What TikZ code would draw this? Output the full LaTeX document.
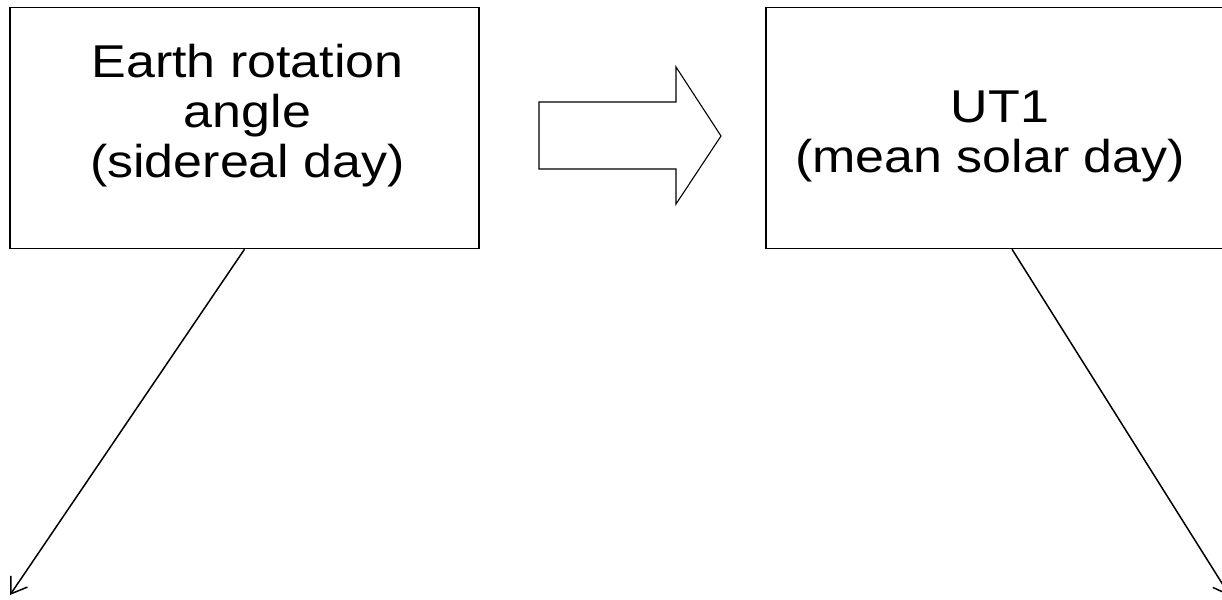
\documentclass[tikz,border=0pt]{standalone}
\usepackage{fontspec}
\setmainfont{Liberation Sans}
\newfontfamily\widesans[FakeStretch=1.13]{Liberation Sans}
\usetikzlibrary{arrows.meta,calc}
\begin{document}
\begin{tikzpicture}[x=1pt,y=-1pt,
  box/.style={draw=black,line width=1.5pt,minimum width=469pt,minimum height=241pt,inner sep=0pt,fill=white},
  lbl/.style={align=center,inner sep=0pt,font=\widesans\fontsize{46pt}{50pt}\selectfont},
  conn/.style={draw=black,line width=1.5pt,-{Straight Barb[length=15pt,width=20pt,line width=1.5pt]}},
  blockarrow/.style={draw=black,line width=1.1pt,line join=miter,fill=white}]
\useasboundingbox (0,0) rectangle (1222,599);
\fill[white] (0,0) rectangle (1222,599);
\node[box] (era) at (244.5,128) {};
\node[lbl] (eratext) at (247.5,116) {Earth rotation\\angle\\(sidereal day)};
\node[box] (ut1box) at (1000.5,128) {};
\node[lbl] (ut1text) at (990,136) {\hspace*{20pt}UT1\\(mean solar day)};
\draw[blockarrow] (539,102) -- (676,102) -- (676,67) -- (721,136) -- (676,204) -- (676,169) -- (539,169) -- cycle;
\coordinate (leftend) at (10,595);
\coordinate (rightend) at (1230,596);
\draw[conn] (era.south) -- (leftend);
\draw[conn] ($(ut1box.south)+(11.5,0)$) -- (rightend);
\end{tikzpicture}
\end{document}
